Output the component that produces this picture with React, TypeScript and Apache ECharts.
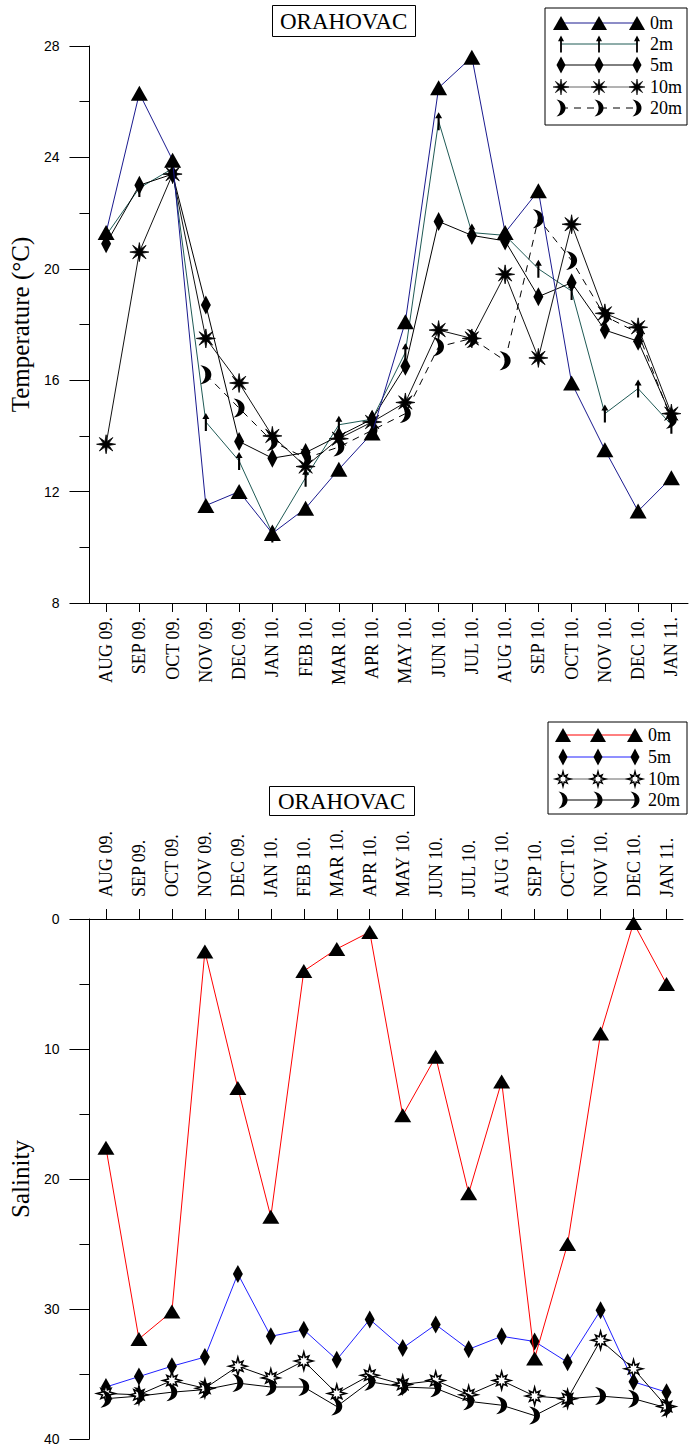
import React, { useEffect, useRef } from 'react';
import * as echarts from 'echarts';

const months = ['AUG 09.', 'SEP 09.', 'OCT 09.', 'NOV 09.', 'DEC 09.', 'JAN 10.', 'FEB 10.', 'MAR 10.', 'APR 10.', 'MAY 10.', 'JUN 10.', 'JUL 10.', 'AUG 10.', 'SEP 10.', 'OCT 10.', 'NOV 10.', 'DEC 10.', 'JAN 11.'];

// Temperature (°C)
const temp0m = [21.3, 26.3, 23.9, 11.5, 12.0, 10.5, 11.4, 12.8, 14.1, 18.1, 26.5, 27.6, 21.3, 22.8, 15.9, 13.5, 11.3, 12.5];
const temp2m = [21.2, 22.9, 23.6, 14.5, 13.1, 10.5, 12.5, 14.4, 14.6, 17.0, 25.3, 21.3, 21.2, 20.0, 19.2, 14.8, 15.7, 14.4];
const temp5m = [20.9, 23.0, 23.4, 18.7, 13.8, 13.2, 13.4, 14.0, 14.6, 16.5, 21.7, 21.2, 21.0, 19.0, 19.5, 17.8, 17.4, 14.7];
const temp10m = [13.7, 20.6, 23.4, 17.5, 15.9, 14.0, 12.9, 13.9, 14.5, 15.2, 17.8, 17.5, 19.8, 16.8, 21.6, 18.4, 17.9, 14.8];
const temp20m = [null, null, null, 16.2, 15.0, 13.8, 13.2, 13.6, 14.2, 14.8, 17.2, 17.5, 16.7, 21.8, 20.3, 18.3, 17.7, 14.6];

// Salinity
const sal0m = [17.6, 32.3, 30.2, 2.5, 13.0, 22.9, 4.0, 2.3, 1.0, 15.1, 10.6, 21.1, 12.5, 33.8, 25.0, 8.8, 0.3, 5.0];
const sal5m = [36.0, 35.2, 34.4, 33.7, 27.3, 32.1, 31.6, 33.9, 30.8, 33.0, 31.2, 33.1, 32.1, 32.5, 34.1, 30.1, 35.6, 36.4];
const sal10m = [36.5, 36.6, 35.5, 36.1, 34.4, 35.3, 34.0, 36.5, 35.1, 35.8, 35.5, 36.6, 35.5, 36.7, 36.9, 32.4, 34.6, 37.5];
const sal20m = [36.9, 36.7, 36.4, 36.2, 35.7, 36.0, 36.0, 37.5, 35.6, 36.0, 36.1, 37.1, 37.4, 38.2, 36.9, 36.7, 36.9, 37.6];

const tempMin = 8, tempMax = 28, tempStep = 4;
const salMin = 0, salMax = 40, salStep = 10;
const siteName = 'ORAHOVAC';

function starPath(outer: number[], inner: number): string {
  const pts: string[] = [];
  for (let i = 0; i < 16; i++) {
    const a = (i * Math.PI) / 8 - Math.PI / 2;
    const r = i % 2 === 0 ? outer[(i / 2) % 2] : inner;
    pts.push(`${(10 + r * Math.cos(a)).toFixed(2)},${(10 + r * Math.sin(a)).toFixed(2)}`);
  }
  return 'M' + pts.join(' L') + ' Z';
}

const SH: Record<string, { d: string; w: number; h: number }> = {
  tri: { d: 'M10,0 L20,18 L0,18 Z', w: 20, h: 18 },
  arrow: { d: 'M5,0 L10,8 L6.5,8 L6.5,24 L3.5,24 L3.5,8 L0,8 Z', w: 10, h: 24 },
  diam: { d: 'M5,0 L10,10 L5,20 L0,10 Z', w: 10, h: 20 },
  star: { d: starPath([10, 10], 3.2), w: 20, h: 20 },
  starO: { d: starPath([10, 8], 4.2), w: 20, h: 20 },
  moon: { d: 'M0,0 C12,2 12,18 0,20 C5.5,15 5.5,5 0,0 Z', w: 9, h: 20 },
};

let registered = false;
function registerShapes() {
  if (registered) return;
  registered = true;
  Object.keys(SH).forEach((k) => {
    echarts.graphic.registerShape('mk_' + k, (echarts.graphic as any).extendPath(SH[k].d, {}));
  });
}

function marker(kind: string, cx: number, cy: number, w: number, h: number, fill = '#000', stroke?: string, sw = 1) {
  const s = SH[kind];
  const sx = w / s.w, sy = h / s.h;
  return {
    type: 'mk_' + kind,
    x: cx - w / 2,
    y: cy - h / 2,
    scaleX: sx,
    scaleY: sy,
    z: 100,
    style: stroke ? { fill, stroke, lineWidth: sw / Math.min(sx, sy) } : { fill },
  };
}

const serif = 'Liberation Serif';
const sans = 'Liberation Sans';

type LegendRow = { label: string; kind: string; w: number; h: number; color: string; dashed?: boolean; fill?: string; stroke?: string; sw?: number };

function legendBox(x: number, y: number, w: number, h: number, rows: LegendRow[], rowY: number[], mx: number[], tx: number) {
  const els: any[] = [
    { type: 'rect', shape: { x, y, width: w, height: h }, style: { fill: '#fff', stroke: '#000', lineWidth: 1 }, z: 90 },
  ];
  rows.forEach((r, i) => {
    const cy = rowY[i];
    els.push({
      type: 'line',
      shape: { x1: mx[0], y1: cy, x2: mx[2], y2: cy },
      style: { stroke: r.color, lineWidth: 1, lineDash: r.dashed ? [7, 6] : undefined },
      z: 95,
    });
    mx.forEach((m) => els.push(marker(r.kind, m, cy, r.w, r.h, r.fill || '#000', r.stroke, r.sw || 1)));
    els.push({
      type: 'text',
      x: tx,
      y: cy,
      z: 100,
      style: { text: r.label, fill: '#000', font: `18px "${serif}"`, textVerticalAlign: 'middle', verticalAlign: 'middle' },
    });
  });
  return els;
}

function lineSeries(name: string, data: (number | null)[], kind: string, size: number[], lineColor: string, axis: number, opts: any = {}) {
  return {
    name,
    type: 'line',
    xAxisIndex: axis,
    yAxisIndex: axis,
    data,
    symbol: 'path://' + SH[kind].d,
    symbolSize: size,
    symbolKeepAspect: false,
    showSymbol: true,
    connectNulls: false,
    itemStyle: { color: opts.fill || '#000', borderColor: opts.stroke || '#000', borderWidth: opts.stroke ? (opts.sw || 1) : 0 },
    lineStyle: { color: lineColor, width: 1, type: opts.dashed ? [7, 6] : 'solid' },
    z: opts.z || 2,
  };
}

export default function App() {
  const ref = useRef<HTMLDivElement>(null);
  useEffect(() => {
    if (!ref.current) return;
    registerShapes();
    const chart = echarts.init(ref.current, null, { renderer: 'svg' });

    const xAxisCommon = (gridIndex: number, top: boolean) => ({
      gridIndex,
      type: 'category',
      data: months,
      position: top ? 'top' : 'bottom',
      boundaryGap: true,
      axisLine: { show: true, lineStyle: { color: '#000', width: 1 } },
      axisTick: { show: true, alignWithLabel: true, length: top ? 10 : 9, lineStyle: { color: '#000' } },
      axisLabel: { rotate: 90, margin: top ? 22 : 14, fontFamily: serif, fontSize: 18, color: '#000', interval: 0 },
      splitLine: { show: false },
    });

    const yAxisCommon = (gridIndex: number, name: string, min: number, max: number, step: number, inverse: boolean, gap: number) => ({
      gridIndex,
      type: 'value',
      min,
      max,
      interval: step,
      inverse,
      name,
      nameLocation: 'middle',
      nameGap: gap,
      nameTextStyle: { fontFamily: serif, fontSize: 25, color: '#000' },
      axisLine: { show: true, lineStyle: { color: '#000', width: 1 } },
      axisTick: { show: true, length: 20, lineStyle: { color: '#000' } },
      minorTick: { show: true, splitNumber: 2, length: 10, lineStyle: { color: '#000' } },
      axisLabel: { margin: 30, fontFamily: sans, fontSize: 14, color: '#000' },
      splitLine: { show: false },
      minorSplitLine: { show: false },
    });

    const topLegend = legendBox(545, 8, 142, 117, [
      { label: '0m', kind: 'tri', w: 16, h: 14, color: '#1a1a8f' },
      { label: '2m', kind: 'arrow', w: 6, h: 17, color: '#1f5a55' },
      { label: '5m', kind: 'diam', w: 9, h: 17, color: '#000' },
      { label: '10m', kind: 'star', w: 16, h: 16, color: '#666', stroke: '#000', sw: 0.6 },
      { label: '20m', kind: 'moon', w: 9, h: 17, color: '#000', dashed: true },
    ], [23, 44, 65, 87, 108], [561, 599, 637], 650);

    const botLegend = legendBox(548, 722, 139, 92, [
      { label: '0m', kind: 'tri', w: 16, h: 14, color: '#ff0000' },
      { label: '5m', kind: 'diam', w: 9, h: 17, color: '#2020ff' },
      { label: '10m', kind: 'starO', w: 15, h: 15, color: '#666', fill: '#fff', stroke: '#000', sw: 1.4 },
      { label: '20m', kind: 'moon', w: 9, h: 17, color: '#000' },
    ], [735, 757, 779, 800], [563, 598, 635], 648);

    const titleStyle = { fontFamily: serif, fontSize: 23, fontWeight: 'normal', color: '#000' };

    chart.setOption({
      animation: false,
      backgroundColor: '#fff',
      title: [
        { text: siteName, left: 272, top: 5, borderColor: '#000', borderWidth: 1, padding: [5, 8, 4, 8], textStyle: titleStyle },
        { text: siteName, left: 269, top: 786, borderColor: '#000', borderWidth: 1, padding: [4, 9, 3, 9], textStyle: titleStyle },
      ],
      grid: [
        { left: 88, top: 46, width: 600, height: 557 },
        { left: 85, top: 919, width: 598, height: 520 },
      ],
      xAxis: [xAxisCommon(0, false), xAxisCommon(1, true)],
      yAxis: [
        yAxisCommon(0, 'Temperature (°C)', tempMin, tempMax, tempStep, false, 53),
        yAxisCommon(1, 'Salinity', salMin, salMax, salStep, true, 52),
      ],
      series: [
        lineSeries('0m', temp0m, 'tri', [17, 15], '#1a1a8f', 0, { z: 3 }),
        lineSeries('2m', temp2m, 'arrow', [7, 18], '#1f5a55', 0),
        lineSeries('5m', temp5m, 'diam', [10, 19], '#000', 0),
        lineSeries('10m', temp10m, 'star', [19, 19], '#111', 0, { stroke: '#000', sw: 0.8 }),
        lineSeries('20m', temp20m, 'moon', [11, 19], '#000', 0, { dashed: true }),
        lineSeries('0m', sal0m, 'tri', [17, 14], '#ff0000', 1, { z: 3 }),
        lineSeries('5m', sal5m, 'diam', [10, 18], '#2020ff', 1),
        lineSeries('10m', sal10m, 'starO', [18, 18], '#000', 1, { fill: '#fff', stroke: '#000', sw: 1.5 }),
        lineSeries('20m', sal20m, 'moon', [11, 18], '#000', 1),
      ],
      graphic: [...topLegend, ...botLegend],
    });
    return () => chart.dispose();
  }, []);
  return <div ref={ref} style={{ position: 'absolute', left: 0, top: 0, width: 689, height: 1448, background: '#fff' }} />;
}
